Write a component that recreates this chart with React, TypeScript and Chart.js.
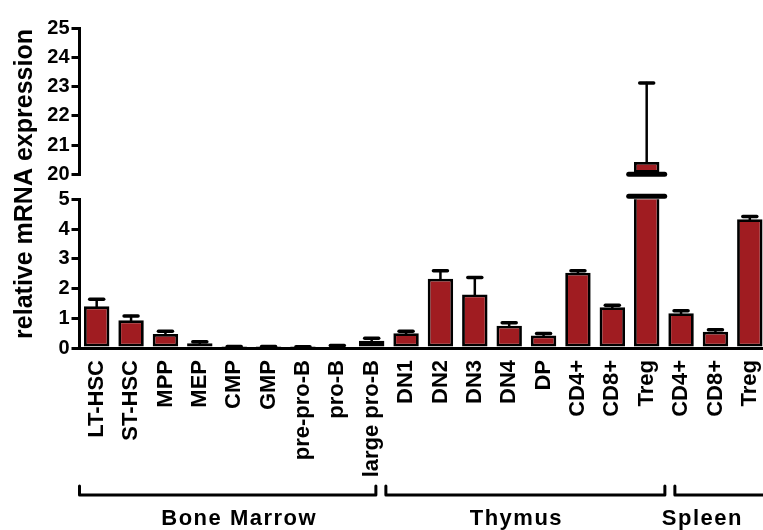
import React, { useEffect, useRef } from "react";
import { Chart, registerables } from "chart.js";

Chart.register(...registerables);

// ---- data ----
const categories = [
  "LT-HSC", "ST-HSC", "MPP", "MEP", "CMP", "GMP", "pre-pro-B", "pro-B", "large pro-B",
  "DN1", "DN2", "DN3", "DN4", "DP", "CD4+", "CD8+", "Treg",
  "CD4+", "CD8+", "Treg",
];
const means = [
  1.4, 0.93, 0.47, 0.16, 0.03, 0.03, 0.02, 0.05, 0.24,
  0.5, 2.33, 1.8, 0.75, 0.42, 2.53, 1.37, 20.42,
  1.17, 0.55, 4.33,
];
const errors = [
  0.24, 0.15, 0.09, 0.05, 0.02, 0.02, 0.02, 0.03, 0.09,
  0.06, 0.27, 0.57, 0.1, 0.07, 0.07, 0.07, 2.7,
  0.08, 0.06, 0.09,
];
const groupNames = ["Bone Marrow", "Thymus", "Spleen"];
const groupSizes = [9, 8, 3];
const lowerTicks = [0, 1, 2, 3, 4, 5];
const upperTicks = [20, 21, 22, 23, 24, 25];
const yTitle = "relative mRNA expression";

const LOWER_MIN = 0;
const LOWER_MAX = 5;
const LOWER_CAP = 5.1;
const UPPER_MIN = 20;
const UPPER_MAX = 25;

const BAR_COLOR = "#A01C21";
const SANS = '"Liberation Sans", Arial, Helvetica, sans-serif';

// styling offsets (pixels) for bracket gaps and group label placement
const BRACKET_GAP_SHIFT = [-8, 6];
const GROUP_LABEL_SHIFT = [5, -10, -13];

const lowerValues = means.map((v) => Math.min(v, LOWER_CAP));
const upperValues = means.map((v) => (v > LOWER_MAX ? v : null));

function line(ctx: CanvasRenderingContext2D, x1: number, y1: number, x2: number, y2: number) {
  ctx.beginPath();
  ctx.moveTo(x1, y1);
  ctx.lineTo(x2, y2);
  ctx.stroke();
}

const decorPlugin = {
  id: "decor",
  afterDatasetsDraw(chart: any) {
    const ctx: CanvasRenderingContext2D = chart.ctx;
    const xs = chart.scales.x;
    const yLow = chart.scales.yLow;
    const yHigh = chart.scales.yHigh;
    ctx.save();
    ctx.strokeStyle = "#000";
    ctx.lineCap = "round";
    [0, 1].forEach((di) => {
      const meta = chart.getDatasetMeta(di);
      const ys = chart.scales[meta.yAxisID];
      meta.data.forEach((bar: any, i: number) => {
        const v = chart.data.datasets[di].data[i];
        if (v == null) return;
        if (di === 0 && means[i] > LOWER_MAX) return;
        const top = ys.getPixelForValue(means[i] + errors[i]);
        ctx.lineWidth = 2.5;
        line(ctx, bar.x, bar.y, bar.x, top);
        ctx.lineWidth = 3.5;
        line(ctx, bar.x - 7, top, bar.x + 7, top);
      });
    });
    // axis-break marks on bars that exceed the lower segment
    means.forEach((m, i) => {
      if (m <= LOWER_MAX) return;
      const bx = xs.getPixelForValue(i);
      const hw = 18;
      ctx.lineWidth = 5;
      const y1 = yLow.getPixelForValue(LOWER_CAP);
      const y2 = yHigh.getPixelForValue(UPPER_MIN);
      line(ctx, bx - hw, y1, bx + hw, y1);
      line(ctx, bx - hw, y2, bx + hw, y2);
    });
    ctx.restore();
  },
  afterDraw(chart: any) {
    const ctx: CanvasRenderingContext2D = chart.ctx;
    const xs = chart.scales.x;
    const area = chart.chartArea;
    ctx.save();
    // y title
    ctx.fillStyle = "#000";
    ctx.font = `bold 25px ${SANS}`;
    ctx.textAlign = "center";
    ctx.textBaseline = "middle";
    ctx.translate(25, 184);
    ctx.rotate(-Math.PI / 2);
    ctx.fillText(yTitle, 0, 0);
    ctx.restore();

    // group brackets
    ctx.save();
    ctx.strokeStyle = "#000";
    ctx.fillStyle = "#000";
    ctx.lineWidth = 3;
    ctx.lineCap = "round";
    ctx.lineJoin = "round";
    const step = xs.getPixelForValue(1) - xs.getPixelForValue(0);
    const yLine = 495;
    const yTip = 486;
    const gap = 5;
    let start = 0;
    groupSizes.forEach((n, gi) => {
      const first = start;
      const last = start + n - 1;
      const isFirst = gi === 0;
      const isLast = gi === groupSizes.length - 1;
      const left = isFirst
        ? area.left
        : xs.getPixelForValue(first) - step / 2 + gap + BRACKET_GAP_SHIFT[gi - 1];
      const right = isLast
        ? area.right + 10
        : xs.getPixelForValue(last) + step / 2 - gap + BRACKET_GAP_SHIFT[gi];
      ctx.beginPath();
      ctx.moveTo(left, yTip);
      ctx.lineTo(left, yLine);
      ctx.lineTo(right, yLine);
      if (!isLast) ctx.lineTo(right, yTip);
      ctx.stroke();
      const cx = (xs.getPixelForValue(first) + xs.getPixelForValue(last)) / 2 + GROUP_LABEL_SHIFT[gi];
      ctx.font = `bold 22px ${SANS}`;
      (ctx as any).letterSpacing = "1.5px";
      ctx.textAlign = "center";
      ctx.textBaseline = "middle";
      ctx.fillText(groupNames[gi], cx, 519);
      start += n;
    });
    ctx.restore();
  },
};

export default function App() {
  const ref = useRef<HTMLCanvasElement | null>(null);

  useEffect(() => {
    if (!ref.current) return;
    const tickFont = { family: SANS, size: 20, weight: "bold" as const };
    const yCommon = (ticks: number[], min: number, max: number, weight: number) => ({
      type: "linear" as const,
      position: "left" as const,
      stack: "v",
      stackWeight: weight,
      min,
      max,
      stacked: false,
      afterBuildTicks: (s: any) => {
        s.ticks = ticks.map((v) => ({ value: v }));
      },
      afterFit: (s: any) => {
        s.width = 79.5;
      },
      ticks: { font: tickFont, color: "#000", padding: 2, autoSkip: false },
      grid: { drawOnChartArea: false, tickLength: 8, lineWidth: 3, color: "#000" },
      border: { display: true, width: 3, color: "#000" },
    });
    const chart = new Chart(ref.current, {
      type: "bar",
      data: {
        labels: categories,
        datasets: [
          {
            data: lowerValues,
            yAxisID: "yLow",
            stack: "s",
            backgroundColor: BAR_COLOR,
            borderColor: "#000",
            borderWidth: 2.8,
            borderSkipped: false,
            barPercentage: 0.74,
            categoryPercentage: 1,
          },
          {
            data: upperValues as any,
            yAxisID: "yHigh",
            stack: "s",
            base: UPPER_MIN,
            backgroundColor: BAR_COLOR,
            borderColor: "#000",
            borderWidth: 2.8,
            borderSkipped: false,
            barPercentage: 0.74,
            categoryPercentage: 1,
          },
        ],
      },
      options: {
        responsive: false,
        animation: false,
        devicePixelRatio: 1,
        layout: { padding: { top: 28, left: 0, right: 0, bottom: 0 } },
        plugins: { legend: { display: false }, tooltip: { enabled: false } },
        scales: {
          x: {
            type: "category",
            offset: true,
            grid: { display: false, drawTicks: false },
            border: { display: true, width: 3, color: "#000" },
            ticks: {
              minRotation: 90,
              maxRotation: 90,
              autoSkip: false,
              padding: 12,
              color: "#000",
              font: { family: SANS, size: 22, weight: "bold" },
            },
            afterFit: (s: any) => {
              s.height = 182;
              s.paddingLeft = 0;
              s.paddingRight = 0;
            },
          },
          yLow: yCommon(lowerTicks, LOWER_MIN, LOWER_MAX, 148.7),
          yGap: {
            type: "linear",
            position: "left",
            stack: "v",
            stackWeight: 25,
            display: true,
            ticks: { display: false },
            grid: { display: false },
            border: { display: false },
            afterFit: (s: any) => {
              s.width = 79.5;
            },
          },
          yHigh: yCommon(upperTicks, UPPER_MIN, UPPER_MAX, 146.3),
        } as any,
      },
      plugins: [decorPlugin],
    });
    return () => chart.destroy();
  }, []);

  return (
    <div
      style={{
        position: "fixed",
        left: 0,
        top: 0,
        width: 763,
        height: 530,
        overflow: "hidden",
        background: "#fff",
      }}
    >
      <canvas ref={ref} width={767} height={530} style={{ display: "block" }} />
    </div>
  );
}
